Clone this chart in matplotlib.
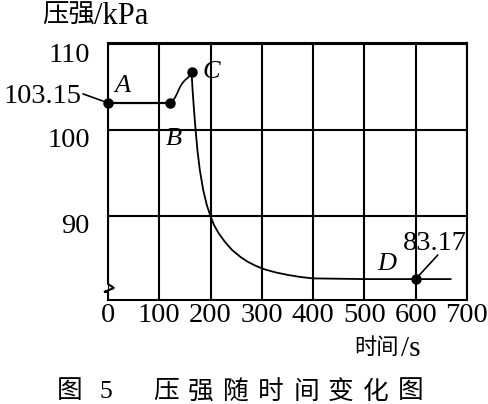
import matplotlib
matplotlib.use('Agg')
import matplotlib.pyplot as plt
from matplotlib.lines import Line2D

plt.rcParams['font.family'] = ['Liberation Serif', 'Noto Sans CJK SC']
plt.rcParams['axes.unicode_minus'] = False

# ---------------- data ----------------
x_ticks = [0, 100, 200, 300, 400, 500, 600, 700]
x_tick_labels = ['0', '100', '200', '300', '400', '500', '600', '700']
y_ticks = [90, 100, 110]
y_tick_labels = ['90', '100', '110']

# A -> B (flat)
ab_t = [0, 120]
ab_p = [103.15, 103.15]
# B -> C (rise)
bc_t = [120, 126, 131, 135.5, 140, 145, 150, 155, 159, 163]
bc_p = [103.15, 103.4, 103.8, 104.35, 104.95, 105.45, 105.8, 106.05, 106.3, 106.7]
# C -> D (drop and plateau)
cd_t = [163, 164.9, 167.7, 170.8, 174.3, 179.0, 185.6, 192.6, 199.5, 206.7,
        215.4, 228.1, 241.8, 258.3, 273.0, 288.6, 306.1, 327.5, 351, 374.3,
        399.7, 500, 600, 668]
cd_p = [106.7, 104.67, 102.33, 100.0, 97.67, 95.33, 93.0, 91.25, 90.0, 88.91,
        87.98, 86.93, 86.0, 85.18, 84.6, 84.13, 83.72, 83.37, 83.08, 82.85,
        82.68, 82.6, 82.6, 82.6]

point_names = ['A', 'B', 'C', 'D']
point_t = [0, 120, 163, 600]
point_p = [103.15, 103.15, 106.7, 82.6]
a_value_label = '103.15'
d_value_label = '83.17'

y_label_cn = '压强'
y_label_unit = '/kPa'
x_label_cn = '时间'
x_label_unit = '/s'
title_chars = ['图', '5', '压', '强', '随', '时', '间', '变', '化', '图']

# ---------------- figure ----------------
W, H = 489, 404
fig = plt.figure(figsize=(W / 100, H / 100), dpi=100)
ax_left, ax_right, ax_top, ax_bottom = 108, 467, 43.3, 300
ax = fig.add_axes([ax_left / W, 1 - ax_bottom / H,
                   (ax_right - ax_left) / W, (ax_bottom - ax_top) / H])
ax.set_xlim(0, 700)
ax.set_ylim(80.16, 110.1)

lw = 1.5
ax.set_xticks(x_ticks)
ax.set_xticklabels(x_tick_labels, fontsize=20.5)
ax.set_yticks(y_ticks)
ax.set_yticklabels([])
ax.tick_params(length=0, pad=2.5)
ax.grid(True, color='black', lw=lw)
ax.set_axisbelow(True)
for s in ['top', 'right', 'bottom']:
    ax.spines[s].set_linewidth(lw)
    ax.spines[s].set_color('black')
ax.spines['left'].set_visible(False)

# left axis with break symbol (pixel -> axes fraction)
def fx(px):
    return (px - ax_left) / (ax_right - ax_left)

def fy(py):
    return (ax_bottom - py) / (ax_bottom - ax_top)

brk_px = [(108, ax_top), (108, 284), (114, 288), (104, 292), (108, 291.5),
          (108, ax_bottom)]
ax.add_line(Line2D([fx(p[0]) for p in brk_px], [fy(p[1]) for p in brk_px],
                   transform=ax.transAxes, color='black', lw=lw, clip_on=False,
                   solid_joinstyle='miter'))

# y tick labels
for v, lab in zip(y_ticks, y_tick_labels):
    ax.annotate(lab, xy=(0, v), xycoords=('axes fraction', 'data'),
                xytext=(-18, -11), textcoords='offset pixels',
                ha='right', va='center', fontsize=20.5)

# curve
ax.plot(ab_t, ab_p, color='black', lw=1.6, solid_capstyle='butt')
ax.plot(bc_t, bc_p, color='black', lw=1.2)
ax.plot(cd_t, cd_p, color='black', lw=1.3)
ax.plot(point_t, point_p, 'o', color='black', ms=6.5, clip_on=False, zorder=5)

# letter labels
letter_offsets = [(15, 17), (4, -36), (20, 0), (-29, 15)]
for name, t, p, off in zip(point_names, point_t, point_p, letter_offsets):
    ax.annotate(name, xy=(t, p), xytext=off, textcoords='offset pixels',
                ha='center', va='center', fontsize=19, style='italic',
                annotation_clip=False)

# value labels with leader lines
ax.annotate('', xy=(point_t[0], point_p[0]), xytext=(-25, 9), textcoords='offset pixels',
            arrowprops=dict(arrowstyle='-', lw=1.2, color='black', shrinkA=0, shrinkB=0),
            annotation_clip=False)
ax.annotate(a_value_label, xy=(point_t[0], point_p[0]), xytext=(-26, 6),
            textcoords='offset pixels', ha='right', va='center', fontsize=20.5,
            annotation_clip=False)
ax.annotate('', xy=(point_t[3], point_p[3]), xytext=(22, 24), textcoords='offset pixels',
            arrowprops=dict(arrowstyle='-', lw=1.2, color='black', shrinkA=0, shrinkB=0),
            annotation_clip=False)
ax.annotate(d_value_label, xy=(point_t[3], point_p[3]), xytext=(19, 36),
            textcoords='offset pixels', ha='center', va='center', fontsize=20.5,
            annotation_clip=False)

# axis titles
fig.text(42 / W, 1 - 16 / H, y_label_cn, ha='left', va='center', fontsize=19)
fig.text(94 / W, 1 - 16 / H, y_label_unit, ha='left', va='center', fontsize=22)
fig.text(399 / W, 1 - 349 / H, x_label_cn, ha='right', va='center', fontsize=16)
fig.text(401 / W, 1 - 349 / H, x_label_unit, ha='left', va='center', fontsize=21)

# caption
title_x = [70, 106, 166, 201, 236, 271, 306, 341, 376, 411]
for ch, px in zip(title_chars, title_x):
    fig.text(px / W, 1 - 392 / H, ch, ha='center', va='center', fontsize=18.5)

fig.savefig('out.png', dpi=100)
